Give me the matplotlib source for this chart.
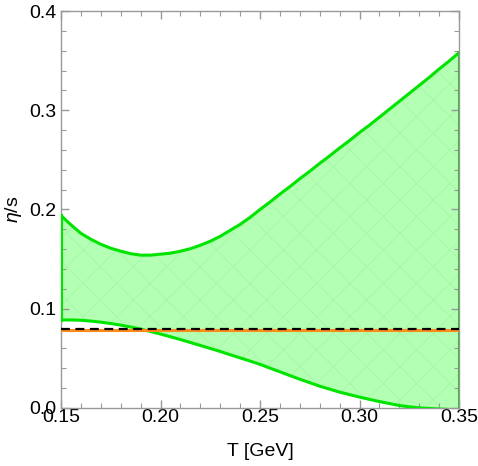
import numpy as np
import matplotlib
matplotlib.use("Agg")
import matplotlib.pyplot as plt
from matplotlib.ticker import MultipleLocator

plt.rcParams['font.family'] = ['Liberation Sans', 'DejaVu Sans']
plt.rcParams['hatch.linewidth'] = 0.5
plt.rcParams['mathtext.fontset'] = 'custom'
plt.rcParams['mathtext.it'] = 'Liberation Sans:italic'

T = [0.150, 0.155, 0.160, 0.165, 0.170, 0.175, 0.180, 0.185, 0.190, 0.195,
     0.200, 0.205, 0.210, 0.215, 0.220, 0.225, 0.230, 0.235, 0.240, 0.245,
     0.250, 0.255, 0.260, 0.265, 0.270, 0.275, 0.280, 0.285, 0.290, 0.295,
     0.300, 0.305, 0.310, 0.315, 0.320, 0.325, 0.330, 0.335, 0.340, 0.345, 0.350]
upper = [0.194, 0.1845, 0.176, 0.170, 0.165, 0.161, 0.158, 0.1555, 0.154, 0.154,
         0.155, 0.156, 0.158, 0.1605, 0.164, 0.168, 0.173, 0.179, 0.185, 0.192,
         0.200, 0.2075, 0.2155, 0.223, 0.231, 0.2385, 0.2465, 0.254, 0.262, 0.2695,
         0.2775, 0.285, 0.293, 0.301, 0.309, 0.317, 0.325, 0.333, 0.3415, 0.3495, 0.358]
lower = [0.0887, 0.0887, 0.0884, 0.0876, 0.0865, 0.0851, 0.0835, 0.0816, 0.0795, 0.0771,
         0.0745, 0.0718, 0.0690, 0.0660, 0.0630, 0.0600, 0.0570, 0.0537, 0.0505, 0.0473,
         0.0440, 0.0402, 0.0365, 0.0327, 0.0290, 0.0255, 0.0220, 0.0190, 0.0160, 0.0135,
         0.0110, 0.0087, 0.0065, 0.0045, 0.0025, 0.0012, 0.0002, -0.0005, -0.0010, -0.0015, -0.0020]
kss_orange = 0.0785
kss_dashed = 0.0796

fig = plt.figure(figsize=(4.78, 4.66), dpi=100)
ax = fig.add_axes([61/478, 58/466, 398/478, 397/466])

green = '#00e400'
ax.fill_between(T, lower, upper, facecolor='#b3ffb3', edgecolor='none', zorder=1)
ax.fill_between(T, lower, upper, facecolor='none', edgecolor='#a4f6a4', hatch='x',
                linewidth=0, zorder=1.1)
ax.plot(T, upper, color=green, lw=2.2, zorder=3)
ax.plot(T, lower, color=green, lw=2.2, zorder=3)
ax.plot([T[0], T[0]], [lower[0], upper[0]], color=green, lw=2.2, zorder=3)
ax.plot([T[-1], T[-1]], [0, upper[-1]], color='#3cb83c', lw=2.2, zorder=3)
ax.axhline(kss_orange, color='#ff8c1a', lw=2.2, zorder=4)
ax.axhline(kss_dashed, color='black', lw=1.6, ls=(0, (4, 2.5)), zorder=5)

ax.set_xlim(0.15, 0.35)
ax.set_ylim(0.0, 0.4)
ax.xaxis.set_major_locator(MultipleLocator(0.05))
ax.xaxis.set_minor_locator(MultipleLocator(0.01))
ax.yaxis.set_major_locator(MultipleLocator(0.1))
ax.yaxis.set_minor_locator(MultipleLocator(0.02))
ax.xaxis.set_major_formatter(plt.FuncFormatter(lambda v, p: f"{v:.2f}"))
ax.yaxis.set_major_formatter(plt.FuncFormatter(lambda v, p: f"{v:.1f}"))

for s in ax.spines.values():
    s.set_color('#999999')
    s.set_linewidth(1.0)
ax.tick_params(which='both', direction='in', top=True, right=True, color='#999999',
               labelsize=14, labelcolor='black')
ax.tick_params(which='major', length=6, width=1)
ax.tick_params(which='minor', length=3.5, width=0.8)
ax.tick_params(axis='x', which='major', pad=1)
ax.tick_params(axis='y', which='major', pad=3)

ax.set_xlabel('T [GeV]', fontsize=14, labelpad=12)
ax.set_ylabel(r'$\it{\eta}$/s', fontsize=14, labelpad=4)

fig.savefig('out.png', dpi=100)
